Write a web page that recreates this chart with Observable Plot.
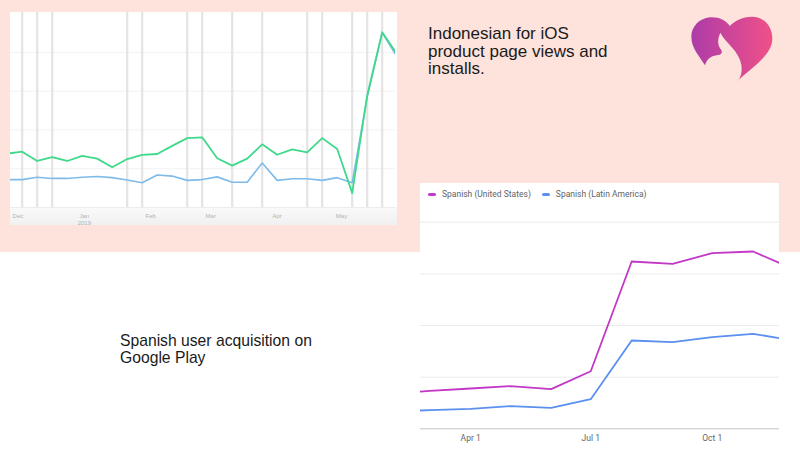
<!DOCTYPE html>
<html><head><meta charset="utf-8">
<script src="https://cdn.jsdelivr.net/npm/d3@7"></script>
<script src="https://cdn.jsdelivr.net/npm/@observablehq/plot@0.6"></script>
<style>
html,body{margin:0;padding:0;}
body{width:800px;height:452px;position:relative;overflow:hidden;background:#fff;font-family:"Liberation Sans",Arial,sans-serif;}
#peach{position:absolute;left:0;top:0;width:800px;height:252px;background:#fde3db;}
#leftbox{position:absolute;left:10px;top:12px;width:387px;height:213px;background:#fff;}
#leftaxisbg{position:absolute;left:0;top:195px;width:387px;height:18px;background:linear-gradient(#fafafa,#f0f0f0);}
#leftchart{position:absolute;left:0;top:0;}
#rightbox{position:absolute;left:420px;top:183px;width:359px;height:269px;background:#fff;}
#rightchart{position:absolute;left:0;top:0;}
#legend{position:absolute;left:8px;top:6px;font-family:Roboto,sans-serif;font-size:8.5px;color:#5f6368;display:flex;align-items:center;white-space:nowrap;}
#legend .sw{display:inline-block;width:8px;height:3px;border-radius:2px;margin-right:6px;}
#legend .item{display:flex;align-items:center;margin-right:11px;}
.txt{position:absolute;color:#1a1a1a;}
#t1{left:428px;top:25px;font-size:17px;line-height:17.5px;}
#t2{left:120px;top:332px;font-size:15.7px;line-height:17.3px;}
#logo{position:absolute;left:680px;top:10px;}
</style>
</head><body>
<div id="peach"></div>
<div id="leftbox"><div id="leftaxisbg"></div><div id="leftchart"></div></div>
<div id="rightbox"><div id="rightchart"></div><div id="legend"></div></div>
<div class="txt" id="t1">Indonesian for iOS<br>product page views and<br>installs.</div>
<div class="txt" id="t2">Spanish user acquisition on<br>Google Play</div>
<svg id="logo" width="100" height="80" viewBox="0 0 300 240">
  <defs><linearGradient id="lg" x1="0" x2="1" y1="0" y2="0">
    <stop offset="0" stop-color="#ad3ca8"/><stop offset="1" stop-color="#f05088"/></linearGradient></defs>
  <path fill="url(#lg)" d="M170,216 C200,182 277,140 277,86 C277,46 249,20 216,20 C186,20 162,34 150,48 C136,30 116,20 90,22 C56,25 34,52 34,80 C34,115 60,140 75,166 Z"/>
  <path fill="#fde3db" d="M60,178 L75,166 C80,148 92,138 110,136 C124,135 128,128 124,120 C112,106 112,88 121,68 C138,100 178,124 184,164 C188,190 180,206 170,218 L60,232 Z"/>
</svg>
<script>
// ---------- Left chart: Indonesian for iOS (weekly) ----------
const weeks = ["2018-11-26","2018-12-03","2018-12-10","2018-12-17","2018-12-24","2018-12-31",
  "2019-01-07","2019-01-14","2019-01-21","2019-01-28","2019-02-04","2019-02-11","2019-02-18","2019-02-25",
  "2019-03-04","2019-03-11","2019-03-18","2019-03-25","2019-04-01","2019-04-08","2019-04-15","2019-04-22",
  "2019-04-29","2019-05-06","2019-05-13","2019-05-20","2019-05-27"];
const pageViews = [139,144,120,130,120,133,126,104,125,136,138,159,179,181,127,108,126,163,136,150,142,179,151,37,289,452,395];
const installs  = [72,72,78,75,75,78,80,77,71,64,84,81,70,72,79,65,65,115,70,74,74,70,77,64,285,451,388];
const events = ["2018-12-03","2018-12-10","2018-12-17","2019-01-21","2019-01-28","2019-02-18","2019-02-25",
  "2019-03-11","2019-03-25","2019-04-15","2019-04-22","2019-05-06","2019-05-13","2019-05-20"];
const monthTicks = ["2018-12-01","2019-01-01","2019-02-01","2019-03-01","2019-04-01","2019-05-01"];
const monthLabels = ["Dec","Jan\n2019","Feb","Mar","Apr","May"];
const leftGrid = [100,200,300,400];

const wk = weeks.map((d,i)=>({date:new Date(d), views:pageViews[i], installs:installs[i]}));

const left = Plot.plot({
  width:387, height:213, marginTop:0, marginBottom:18, marginLeft:0, marginRight:2,
  style:{background:"transparent", overflow:"visible"},
  x:{type:"utc", axis:null, domain:[new Date("2018-11-27T13:00Z"), new Date("2019-05-26T05:00Z")]},
  y:{axis:null, domain:[0,503]},
  marks:[
    Plot.ruleY(leftGrid, {y:d=>d, stroke:"#f2f2f2", strokeWidth:1}),
    Plot.ruleY([0], {stroke:"#ececec", strokeWidth:1}),
    Plot.ruleX(events, {x:d=>new Date(d), stroke:"#e4e4e4", strokeWidth:2.2}),
    Plot.lineY(wk, {x:"date", y:"installs", stroke:"#7fbbe9", strokeWidth:1.6, clip:true}),
    Plot.lineY(wk, {x:"date", y:"views", stroke:"#40d98b", strokeWidth:1.8, clip:true}),
    Plot.text(monthTicks, {x:d=>new Date(d), text:(d,i)=>monthLabels[i], frameAnchor:"bottom", lineAnchor:"top",
      dy:5, fontSize:6, lineHeight:1.23, fill:"#b3b3b3", fontFamily:"Liberation Sans, sans-serif"})
  ]
});
document.getElementById("leftchart").append(left);

// ---------- Right chart: Spanish user acquisition (monthly) ----------
const months = ["2019-02-01","2019-03-01","2019-04-01","2019-05-01","2019-06-01","2019-07-01",
  "2019-08-01","2019-09-01","2019-10-01","2019-11-01","2019-12-01"];
const spanishUS    = [689,733,780,825,767,1115,3239,3195,3400,3433,3098];
const spanishLatAm = [337,360,387,438,407,573,1710,1677,1773,1839,1713];
const seriesNames = ["Spanish (United States)","Spanish (Latin America)"];
const seriesColors = ["#c237c6","#5b8ff0"];
const rightTicks = ["2019-04-01","2019-07-01","2019-10-01"];
const rightGrid = [1000,2000,3000,4000];

const mo = [];
months.forEach((d,i)=>{
  mo.push({date:new Date(d), value:spanishUS[i], series:seriesNames[0]});
  mo.push({date:new Date(d), value:spanishLatAm[i], series:seriesNames[1]});
});

const right = Plot.plot({
  width:359, height:269, marginTop:38.7, marginBottom:23.7, marginLeft:0, marginRight:0,
  style:{background:"transparent", overflow:"visible"},
  x:{type:"utc", axis:null, domain:[new Date("2019-02-22"), new Date("2019-11-21")]},
  y:{axis:null, domain:[0,4000]},
  color:{domain:seriesNames, range:seriesColors},
  marks:[
    Plot.ruleY(rightGrid, {y:d=>d, stroke:"#ebebeb", strokeWidth:1}),
    Plot.ruleY([0], {stroke:"#c4c4c4", strokeWidth:1}),
    Plot.lineY(mo, {x:"date", y:"value", stroke:"series", z:"series", strokeWidth:1.8, clip:true}),
    Plot.text(rightTicks, {x:d=>new Date(d), text:d=>d3.utcFormat("%b %-d")(new Date(d)), frameAnchor:"bottom",
      lineAnchor:"top", dy:6, fontSize:8.5, fill:"#666", fontFamily:"Roboto, sans-serif"})
  ]
});
document.getElementById("rightchart").append(right);

const lg = document.getElementById("legend");
seriesNames.forEach((n,i)=>{
  const it = document.createElement("span"); it.className="item";
  const sw = document.createElement("span"); sw.className="sw"; sw.style.background=seriesColors[i];
  const tx = document.createElement("span"); tx.textContent=n;
  it.append(sw, tx); lg.append(it);
});
</script>
</body></html>
